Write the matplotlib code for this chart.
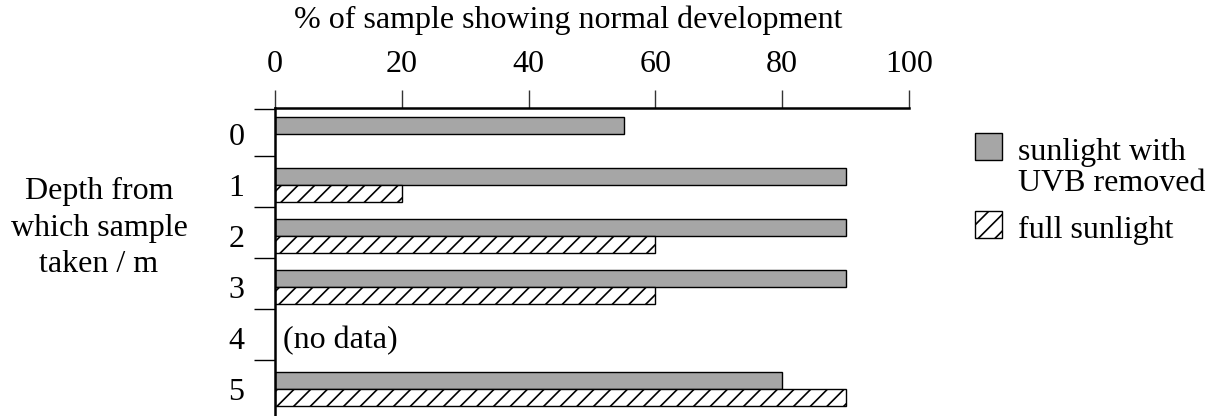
import matplotlib.pyplot as plt
from matplotlib.patches import Rectangle

plt.rcParams['font.family'] = ['Liberation Serif', 'DejaVu Serif']
plt.rcParams['hatch.linewidth'] = 1.2

# data
depths = [0, 1, 2, 3, 4, 5]
uvb_removed = [55, 90, 90, 90, None, 80]
full_sun = [0, 20, 60, 60, None, 90]
x_ticks = [0, 20, 40, 60, 80, 100]

gray = '#a6a6a6'
fs = 23

fig = plt.figure(figsize=(12.1, 4.16), dpi=100)
ax = fig.add_axes([275 / 1210, 0, (909 - 275) / 1210, 1 - 108 / 416])

bh = 0.333
for d, g, h in zip(depths, uvb_removed, full_sun):
    if g is None:
        continue
    ax.barh(d - bh / 2, g, height=bh, color=gray, edgecolor='black', linewidth=1.0)
    if h:
        ax.barh(d + bh / 2, h, height=bh, color='white', edgecolor='black',
                linewidth=1.0, hatch='//')

ax.text(1.3, 4.05, '(no data)', fontsize=fs, va='center', ha='left')

ax.set_xlim(0, 100)
ax.set_ylim(5.52, -0.51)

ax.xaxis.tick_top()
ax.set_xticks(x_ticks)
ax.tick_params(axis='x', length=13, width=1.0, color='#333333', labelsize=fs, pad=8)

ax.set_yticks(depths)
ax.set_yticks([-0.5, 0.42, 1.42, 2.42, 3.42, 4.42], minor=True)
ax.tick_params(axis='y', which='major', length=0, labelsize=fs, pad=22)
ax.tick_params(axis='y', which='minor', length=15, width=1.0, color='black')

for s in ['right', 'bottom']:
    ax.spines[s].set_visible(False)
for s in ['top', 'left']:
    ax.spines[s].set_linewidth(1.8)

fig.text(568 / 1210, 1 - 20 / 416, '% of sample showing normal development',
         fontsize=fs, ha='center', va='center')
fig.text(99 / 1210, 1 - 228 / 416, 'Depth from\nwhich sample\ntaken / m',
         fontsize=fs, ha='center', va='center', linespacing=1.35)

# legend drawn by hand
fig.add_artist(Rectangle((975 / 1210, 1 - 160 / 416), 27 / 1210, 27 / 416,
                         transform=fig.transFigure, facecolor=gray,
                         edgecolor='black', linewidth=1.0))
fig.add_artist(Rectangle((975 / 1210, 1 - 238 / 416), 27 / 1210, 27 / 416,
                         transform=fig.transFigure, facecolor='white',
                         edgecolor='black', linewidth=1.0, hatch='//'))
fig.text(1018 / 1210, 1 - 168 / 416, 'sunlight with\nUVB removed', fontsize=fs,
         ha='left', va='center', linespacing=1.05)
fig.text(1018 / 1210, 1 - 230 / 416, 'full sunlight', fontsize=fs,
         ha='left', va='center')

fig.savefig('out.png', dpi=100)
